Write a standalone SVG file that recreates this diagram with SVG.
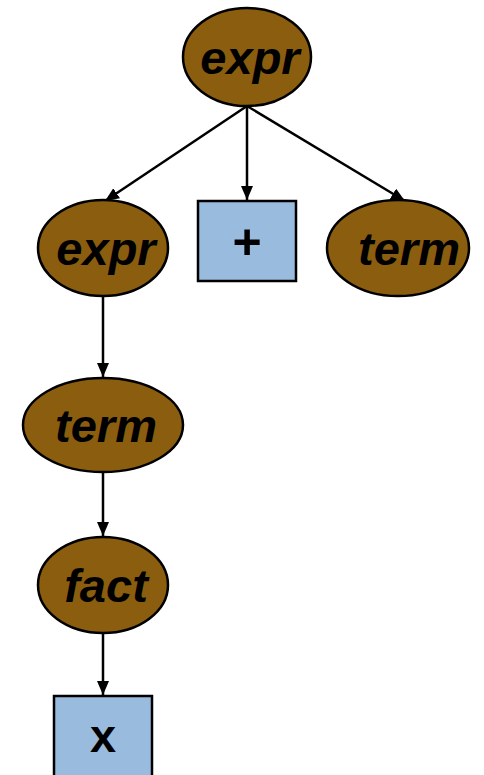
<svg xmlns="http://www.w3.org/2000/svg" width="484" height="775" viewBox="0 0 484 775">
<style>
.nt{fill:#8B5D0E;stroke:#000;stroke-width:2.5}
.t{fill:#99BBDD;stroke:#000;stroke-width:2.5}
.lbl{font-family:"Liberation Sans",Arial,sans-serif;font-weight:bold;font-style:italic;font-size:47px;fill:#000;text-anchor:middle}
.plus{font-family:"Liberation Sans",Arial,sans-serif;font-weight:bold;font-size:50px;fill:#000;text-anchor:middle}
.tt{font-family:"Liberation Mono","Courier New",monospace;font-weight:bold;font-size:46px;fill:#000;text-anchor:middle}
.e{stroke:#000;stroke-width:2.5;fill:none;marker-end:url(#ah)}
</style>
<defs>
<marker id="ah" viewBox="0 0 14 12" refX="14" refY="6" markerWidth="14" markerHeight="12" markerUnits="userSpaceOnUse" orient="auto">
<path d="M0,0 L14,6 L0,12 Z" fill="#000"/>
</marker>
</defs>
<g id="connectors">
<line class="e" x1="247" y1="106" x2="105" y2="201"/>
<line class="e" x1="247" y1="106" x2="247" y2="200"/>
<line class="e" x1="247" y1="106" x2="405" y2="201"/>
<line class="e" x1="103" y1="297" x2="103" y2="377"/>
<line class="e" x1="103" y1="472" x2="103" y2="536"/>
<line class="e" x1="103" y1="633" x2="103" y2="695"/>
</g>
<g id="n-expr-root"><ellipse class="nt" cx="247" cy="57" rx="64" ry="49"/><text class="lbl" x="250" y="74">expr</text></g>
<g id="n-expr"><ellipse class="nt" cx="103" cy="248" rx="65" ry="48"/><text class="lbl" x="106" y="265">expr</text></g>
<g id="n-plus"><rect class="t" x="198" y="201" width="98" height="80"/><text class="plus" x="247" y="259">+</text></g>
<g id="n-term-r"><ellipse class="nt" cx="398" cy="248" rx="71" ry="48"/><text class="lbl" x="409" y="265">term</text></g>
<g id="n-term"><ellipse class="nt" cx="103" cy="425" rx="80" ry="47"/><text class="lbl" x="106" y="442">term</text></g>
<g id="n-fact"><ellipse class="nt" cx="103" cy="585" rx="65" ry="48"/><text class="lbl" x="106" y="602">fact</text></g>
<g id="n-x"><rect class="t" x="54" y="696" width="98" height="90"/><text class="tt" x="103" y="752">x</text></g>
</svg>
